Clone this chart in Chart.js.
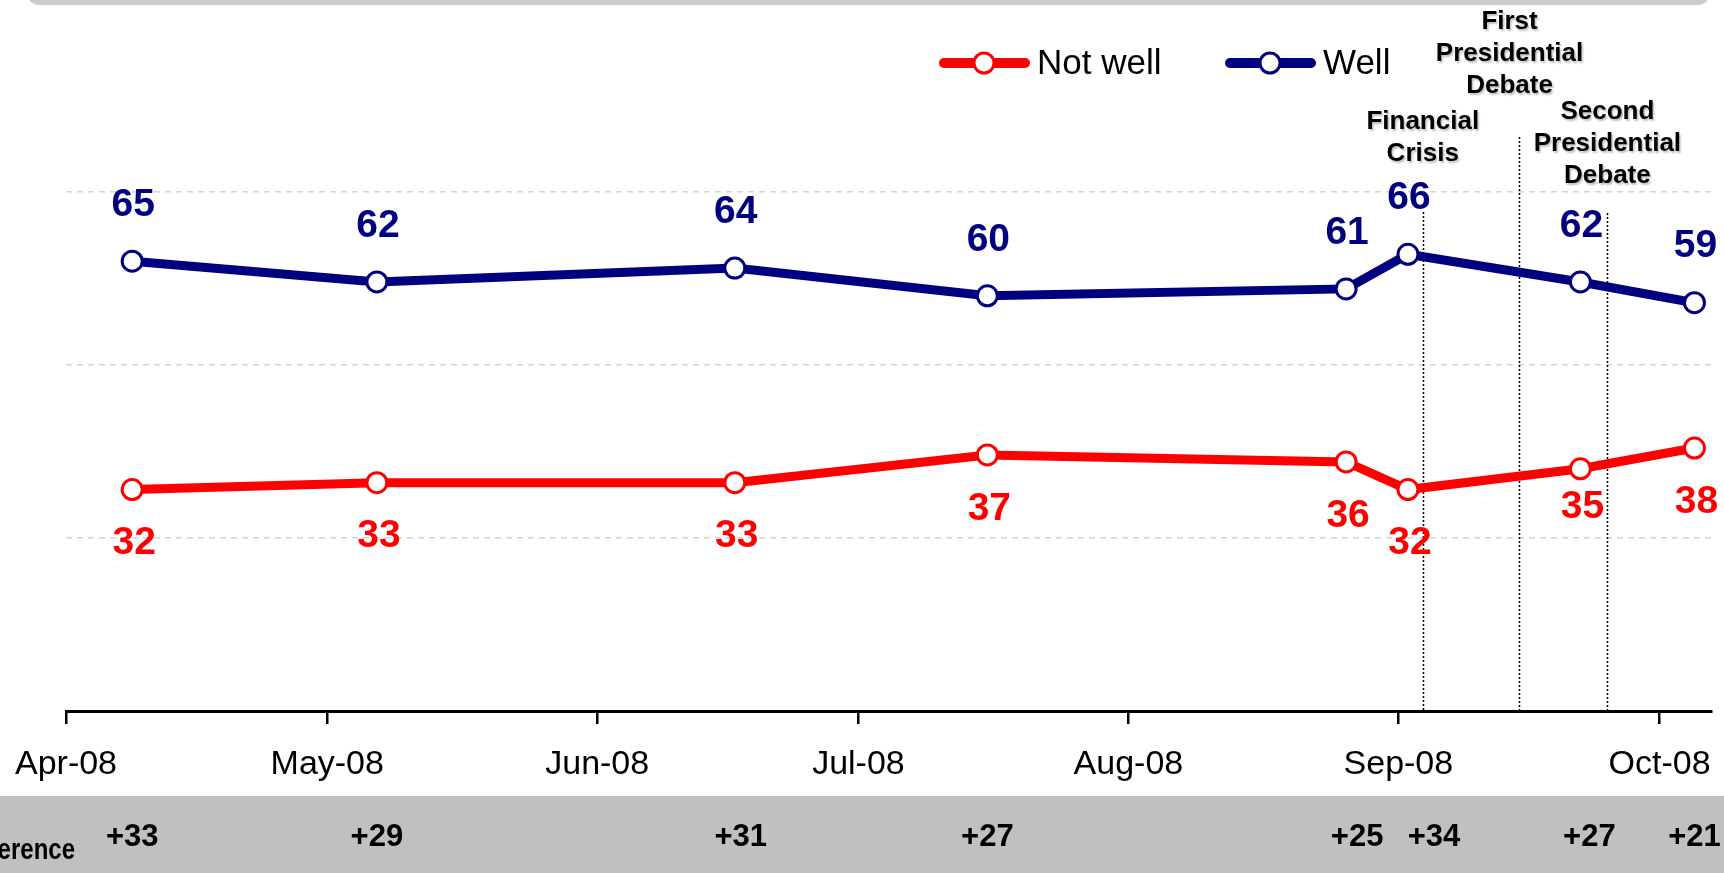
<!DOCTYPE html>
<html>
<head>
<meta charset="utf-8">
<script src="https://cdn.jsdelivr.net/npm/chart.js@4.4.0/dist/chart.umd.min.js"></script>
<style>
  html, body { margin: 0; padding: 0; background: #fff; }
  #wrap { position: relative; width: 1724px; height: 873px; }
</style>
</head>
<body>
<div id="wrap"><canvas id="grafica" width="1724" height="873"></canvas></div>
<script>
// dias contados desde el 1 de abril de 2008
const surveyDays = [7.6, 35.7, 76.8, 105.8, 147, 154.1, 173.9, 187];
const wellValues = [65, 62, 64, 60, 61, 66, 62, 59];
const notWellValues = [32, 33, 33, 37, 36, 32, 35, 38];
const differenceLabels = ["+33", "+29", "+31", "+27", "+25", "+34", "+27", "+21"];

const monthDays = [0, 30, 61, 91, 122, 153, 183];
const monthLabels = ["Apr-08", "May-08", "Jun-08", "Jul-08", "Aug-08", "Sep-08", "Oct-08"];

const eventDays = [155.8, 166.8, 177];
const eventLabels = [
    ["Financial", "Crisis"],
    ["First", "Presidential", "Debate"],
    ["Second", "Presidential", "Debate"]
];

// estilos y posiciones
const FONT = "'Liberation Sans', Arial, sans-serif";
const colorWell = "#000080";
const colorNotWell = "#ff0000";
const eventLayout = [
    { labelY: 122, lineTop: 212, dx: 0 },
    { labelY: 22, lineTop: 137, dx: -9 },
    { labelY: 112, lineTop: 213, dx: 0 }
];
const notWellNudge = { 6: -16 };
const diffNudge = { 2: 6, 4: 11, 5: 26, 6: 9 };

const decoracion = {
    id: "decoracion",
    beforeDraw(chart) {
        const ctx = chart.ctx;
        ctx.save();
        // banda gris de diferencias
        ctx.fillStyle = "#c0c0c0";
        ctx.fillRect(0, 796, chart.width, chart.height - 796);
        // borde inferior del recuadro superior
        ctx.fillStyle = "#cccccc";
        ctx.beginPath();
        ctx.roundRect(28, -20, 1681, 25, 10);
        ctx.fill();
        ctx.restore();
    },
    beforeDatasetsDraw(chart) {
        const ctx = chart.ctx;
        const x = chart.scales.x;
        const bottom = chart.chartArea.bottom;
        ctx.save();
        ctx.strokeStyle = "#000";
        ctx.lineWidth = 1.5;
        ctx.setLineDash([2, 2]);
        eventDays.forEach((d, i) => {
            const px = Math.round(x.getPixelForValue(d)) + 0.5;
            ctx.beginPath();
            ctx.moveTo(px, eventLayout[i].lineTop);
            ctx.lineTo(px, bottom);
            ctx.stroke();
        });
        ctx.restore();
    },
    afterDatasetsDraw(chart) {
        const ctx = chart.ctx;
        const x = chart.scales.x;
        ctx.save();
        ctx.textAlign = "center";
        ctx.textBaseline = "middle";

        // etiquetas de valores
        ctx.font = "bold 39px " + FONT;
        const metaNot = chart.getDatasetMeta(0);
        const metaWell = chart.getDatasetMeta(1);
        ctx.fillStyle = colorNotWell;
        metaNot.data.forEach((p, i) => {
            ctx.fillText(notWellValues[i], p.x + 2, p.y + 54 + (notWellNudge[i] || 0));
        });
        ctx.fillStyle = colorWell;
        metaWell.data.forEach((p, i) => {
            ctx.fillText(wellValues[i], p.x + 1, p.y - 56);
        });

        // eventos
        ctx.font = "bold 26px " + FONT;
        ctx.fillStyle = "#000";
        ctx.shadowColor = "rgba(0,0,0,0.25)";
        ctx.shadowOffsetX = 1.5;
        ctx.shadowOffsetY = 1.5;
        ctx.shadowBlur = 2;
        eventLabels.forEach((lineas, i) => {
            const px = x.getPixelForValue(eventDays[i]) + eventLayout[i].dx;
            lineas.forEach((t, j) => {
                ctx.fillText(t, px, eventLayout[i].labelY + j * 32);
            });
        });
        ctx.shadowColor = "transparent";

        // diferencias
        ctx.font = "bold 31px " + FONT;
        differenceLabels.forEach((t, i) => {
            ctx.fillText(t, x.getPixelForValue(surveyDays[i]) + (diffNudge[i] || 0), 837);
        });
        ctx.save();
        ctx.scale(0.8, 1);
        ctx.textAlign = "right";
        ctx.font = "bold 30px " + FONT;
        ctx.fillText("Difference", 75 / 0.8, 851);
        ctx.restore();

        // leyenda
        const leyenda = [
            { label: "Not well", color: colorNotWell, x0: 939 },
            { label: "Well", color: colorWell, x0: 1225 }
        ];
        ctx.textAlign = "left";
        ctx.font = "35px " + FONT;
        leyenda.forEach(item => {
            ctx.strokeStyle = item.color;
            ctx.lineWidth = 10;
            ctx.lineCap = "round";
            ctx.beginPath();
            ctx.moveTo(item.x0 + 5, 63);
            ctx.lineTo(item.x0 + 86, 63);
            ctx.stroke();
            ctx.fillStyle = "#fff";
            ctx.lineWidth = 3;
            ctx.beginPath();
            ctx.arc(item.x0 + 45, 63, 10, 0, Math.PI * 2);
            ctx.fill();
            ctx.stroke();
            ctx.fillStyle = "#000";
            ctx.fillText(item.label, item.x0 + 98, 64);
        });
        ctx.restore();
    }
};

function puntos(valores) {
    return surveyDays.map((d, i) => ({ x: d, y: valores[i] }));
}

function serie(label, valores, color) {
    return {
        label: label,
        data: puntos(valores),
        borderColor: color,
        borderWidth: 9,
        pointRadius: 10,
        pointBorderWidth: 3,
        pointBackgroundColor: "#fff",
        pointBorderColor: color,
        tension: 0
    };
}

const config = {
    type: "line",
    data: {
        datasets: [
            serie("Not well", notWellValues, colorNotWell),
            serie("Well", wellValues, colorWell)
        ]
    },
    options: {
        responsive: false,
        animation: false,
        devicePixelRatio: 1,
        layout: { padding: { left: 66, right: 2, top: 19, bottom: 0 } },
        plugins: {
            legend: { display: false },
            tooltip: { enabled: false }
        },
        scales: {
            x: {
                type: "linear",
                min: 0,
                max: 188.9,
                afterBuildTicks: scale => {
                    scale.ticks = monthDays.map(v => ({ value: v }));
                },
                afterFit: scale => {
                    scale.height = 162;
                    scale.paddingLeft = 0;
                    scale.paddingRight = 0;
                },
                ticks: {
                    autoSkip: false,
                    maxRotation: 0,
                    padding: 20,
                    color: "#000",
                    font: { family: FONT, size: 34 },
                    callback: value => monthLabels[monthDays.indexOf(value)]
                },
                grid: {
                    drawOnChartArea: false,
                    drawTicks: true,
                    tickLength: 13,
                    tickColor: "#000",
                    lineWidth: 2.5
                },
                border: { display: true, color: "#000", width: 3 }
            },
            y: {
                min: 0,
                max: 100,
                afterFit: scale => {
                    scale.width = 0;
                    scale.paddingTop = 0;
                    scale.paddingBottom = 0;
                },
                ticks: { display: false, stepSize: 25 },
                grid: {
                    drawTicks: false,
                    lineWidth: 1.5,
                    color: c => [25, 50, 75].includes(c.tick.value) ? "#d4d4d4" : "transparent"
                },
                border: { display: false, dash: [6, 5] }
            }
        }
    },
    plugins: [decoracion]
};

new Chart(document.getElementById("grafica"), config);
</script>
</body>
</html>
